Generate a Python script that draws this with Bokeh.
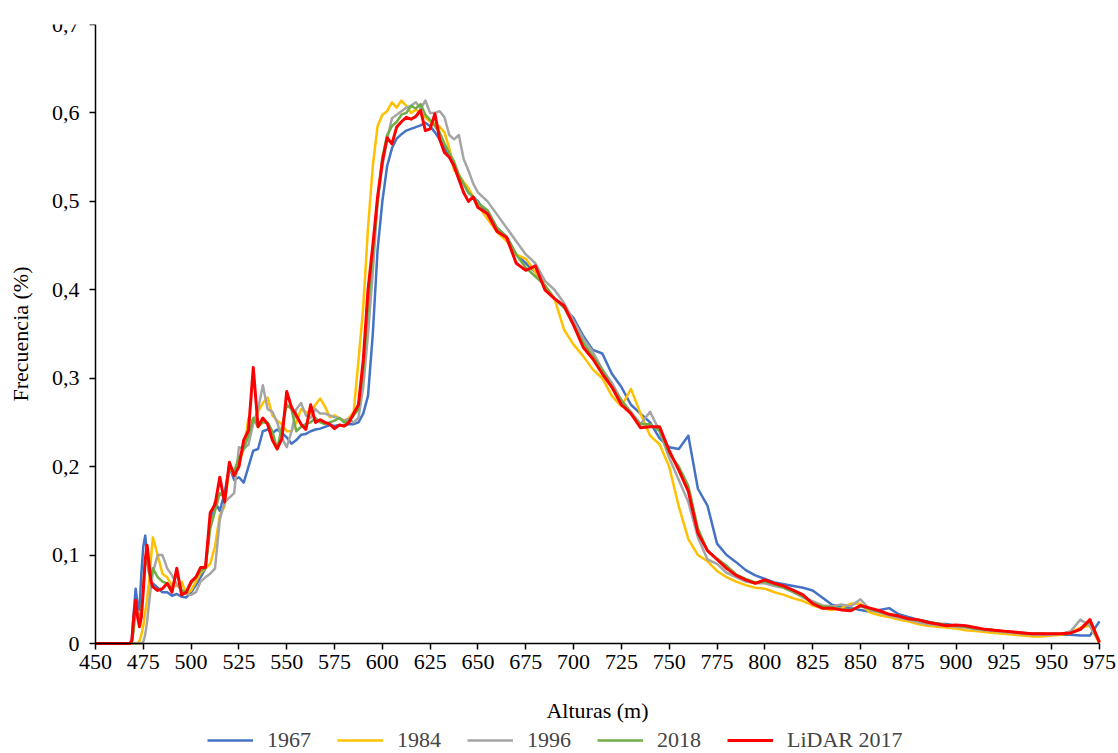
import math
from bokeh.plotting import figure
from bokeh.models import Legend, LegendItem, FixedTicker, CustomJSTickFormatter, Range1d, Label
from bokeh.embed import file_html
from bokeh.resources import INLINE

# ---------------- data ----------------
altura = [450, 460,
          466, 467, 468, 469, 470, 471, 472, 473, 474, 475, 476, 477, 478, 479, 480,
          482.5, 485, 487.5, 490, 492.5, 495, 497.5, 500, 502.5, 505, 507.5, 510,
          512.5, 515, 517.5, 520, 522.5, 525, 527.5, 530, 532.5, 535, 537.5, 540,
          542.5, 545, 547.5, 550, 552.5, 555, 557.5, 560, 562.5, 565, 567.5, 570,
          572.5, 575, 577.5, 580, 582.5, 585, 587.5, 590, 592.5, 595, 597.5, 600,
          602.5, 605, 607.5, 610, 612.5, 615, 617.5, 620, 622.5, 625, 627.5, 630,
          632.5, 635, 637.5, 640, 642.5, 645, 647.5, 650,
          655, 660, 665, 670, 675, 680, 685, 690, 695, 700, 705, 710, 715, 720,
          725, 730, 735, 740, 745, 750, 755, 760, 765, 770, 775, 780, 785, 790,
          795, 800, 805, 810, 815, 820, 825, 830, 835, 840, 845, 850, 855, 860,
          865, 870, 875, 880, 885, 890, 895, 900, 905, 910, 915, 920, 925, 930,
          935, 940, 945, 950, 955, 960, 965, 970, 975]

s1967 = [0, 0,
         0, 0, 0, 0.005, 0.035, 0.062, 0.045, 0.038, 0.08, 0.11, 0.122, 0.1, 0.08, 0.07, 0.068,
         0.063, 0.058, 0.058, 0.054, 0.056, 0.053, 0.052, 0.058, 0.066, 0.075, 0.085, 0.14,
         0.16, 0.15, 0.17, 0.2, 0.185, 0.188, 0.182, 0.2, 0.218, 0.22, 0.24, 0.242,
         0.238, 0.242, 0.238, 0.233, 0.226, 0.23, 0.236, 0.237, 0.24, 0.242, 0.243, 0.245,
         0.247, 0.246, 0.247, 0.246, 0.248, 0.248, 0.25, 0.26, 0.28, 0.35, 0.445, 0.5,
         0.54, 0.56, 0.571, 0.576, 0.58, 0.582, 0.584, 0.586, 0.589, 0.585, 0.578, 0.57,
         0.56, 0.55, 0.54, 0.525, 0.52, 0.51, 0.505, 0.5,
         0.485, 0.47, 0.46, 0.44, 0.43, 0.42, 0.405, 0.39, 0.38, 0.368, 0.348, 0.332, 0.328, 0.305,
         0.29, 0.27, 0.26, 0.25, 0.232, 0.222, 0.22, 0.235, 0.175, 0.156, 0.113, 0.1, 0.092, 0.083,
         0.077, 0.073, 0.069, 0.067, 0.065, 0.063, 0.06, 0.052, 0.044, 0.041, 0.04, 0.038, 0.036, 0.038,
         0.04, 0.033, 0.03, 0.027, 0.025, 0.022, 0.022, 0.02, 0.019, 0.017, 0.016, 0.015, 0.013, 0.012,
         0.012, 0.011, 0.011, 0.01, 0.01, 0.01, 0.009, 0.009, 0.025]

s1984 = [0, 0,
         0, 0, 0, 0, 0, 0, 0, 0.003, 0.01, 0.02, 0.035, 0.05, 0.07, 0.095, 0.12,
         0.1, 0.079, 0.075, 0.065, 0.065, 0.07, 0.056, 0.06, 0.07, 0.08, 0.085, 0.09,
         0.11, 0.145, 0.155, 0.2, 0.19, 0.205, 0.22, 0.255, 0.25, 0.262, 0.272, 0.278,
         0.258, 0.252, 0.248, 0.24, 0.24, 0.25, 0.265, 0.262, 0.26, 0.27, 0.277, 0.268,
         0.256, 0.258, 0.255, 0.252, 0.255, 0.262, 0.32, 0.38, 0.47, 0.54, 0.585, 0.598,
         0.602, 0.612, 0.606, 0.614, 0.608, 0.6, 0.604, 0.6, 0.595, 0.59, 0.588, 0.584,
         0.578, 0.56, 0.535, 0.53, 0.522, 0.515, 0.505, 0.495,
         0.48, 0.465, 0.455, 0.44, 0.435, 0.42, 0.405, 0.39, 0.355, 0.338, 0.325, 0.31, 0.3, 0.28,
         0.268, 0.288, 0.26, 0.235, 0.225, 0.2, 0.155, 0.118, 0.1, 0.093, 0.082, 0.075, 0.07, 0.066,
         0.063, 0.062, 0.058, 0.055, 0.051, 0.048, 0.043, 0.04, 0.038, 0.04, 0.045, 0.045, 0.035, 0.032,
         0.03, 0.027, 0.025, 0.022, 0.02, 0.019, 0.018, 0.017, 0.015, 0.014, 0.013, 0.012, 0.011, 0.01,
         0.009, 0.008, 0.008, 0.009, 0.01, 0.012, 0.018, 0.02, 0.0]

s1996 = [0, 0,
         0, 0, 0, 0, 0, 0, 0, 0, 0, 0.002, 0.01, 0.025, 0.045, 0.065, 0.08,
         0.1, 0.1, 0.085, 0.077, 0.067, 0.06, 0.056, 0.055, 0.058, 0.07, 0.075, 0.079,
         0.085, 0.14, 0.16, 0.165, 0.17, 0.222, 0.22, 0.225, 0.249, 0.265, 0.292, 0.265,
         0.262, 0.25, 0.232, 0.222, 0.24, 0.265, 0.272, 0.258, 0.255, 0.265, 0.26, 0.26,
         0.258, 0.256, 0.255, 0.252, 0.254, 0.25, 0.255, 0.29, 0.35, 0.42, 0.5, 0.54,
         0.57, 0.594, 0.598, 0.602, 0.606, 0.608, 0.612, 0.605, 0.614, 0.6, 0.6, 0.602,
         0.595, 0.575, 0.57, 0.575, 0.548, 0.535, 0.52, 0.51,
         0.5, 0.485, 0.47, 0.455, 0.44, 0.43, 0.41, 0.4, 0.385, 0.365, 0.345, 0.33, 0.31, 0.295,
         0.275, 0.262, 0.248, 0.262, 0.24, 0.21, 0.185, 0.16, 0.12, 0.095, 0.09, 0.08, 0.075, 0.07,
         0.068, 0.068, 0.065, 0.063, 0.058, 0.052, 0.048, 0.043, 0.042, 0.044, 0.042, 0.05, 0.038, 0.035,
         0.032, 0.029, 0.027, 0.024, 0.022, 0.021, 0.02, 0.019, 0.018, 0.016, 0.015, 0.014, 0.013, 0.012,
         0.011, 0.01, 0.01, 0.01, 0.011, 0.014, 0.027, 0.02, 0.002]

s2018 = [0, 0,
         0, 0, 0, 0.002, 0.015, 0.04, 0.035, 0.028, 0.04, 0.065, 0.09, 0.095, 0.08, 0.075, 0.085,
         0.075, 0.07, 0.068, 0.062, 0.08, 0.06, 0.058, 0.068, 0.075, 0.082, 0.085, 0.13,
         0.15, 0.17, 0.165, 0.2, 0.195, 0.21, 0.22, 0.235, 0.255, 0.245, 0.25, 0.25,
         0.24, 0.22, 0.245, 0.27, 0.265, 0.24, 0.245, 0.248, 0.25, 0.255, 0.25, 0.248,
         0.25, 0.252, 0.255, 0.25, 0.252, 0.258, 0.265, 0.31, 0.38, 0.44, 0.5, 0.55,
         0.575, 0.585, 0.59, 0.598, 0.6, 0.608, 0.605, 0.61, 0.598, 0.592, 0.585, 0.578,
         0.565, 0.555, 0.545, 0.53, 0.52, 0.51, 0.505, 0.498,
         0.49, 0.47, 0.46, 0.44, 0.425, 0.415, 0.405, 0.39, 0.38, 0.36, 0.34, 0.325, 0.31, 0.29,
         0.275, 0.26, 0.248, 0.248, 0.24, 0.215, 0.2, 0.178, 0.13, 0.105, 0.096, 0.088, 0.078, 0.073,
         0.069, 0.07, 0.067, 0.063, 0.058, 0.053, 0.046, 0.042, 0.041, 0.039, 0.038, 0.042, 0.039, 0.036,
         0.033, 0.031, 0.028, 0.026, 0.024, 0.023, 0.021, 0.02, 0.019, 0.017, 0.016, 0.015, 0.014, 0.013,
         0.012, 0.011, 0.011, 0.011, 0.011, 0.012, 0.016, 0.025, 0.002]

lidar2017 = [0, 0,
             0, 0, 0, 0.003, 0.03, 0.049, 0.03, 0.019, 0.03, 0.06, 0.095, 0.111, 0.09, 0.07, 0.064,
             0.06, 0.062, 0.068, 0.058, 0.085, 0.055, 0.058, 0.07, 0.075, 0.086, 0.086, 0.148,
             0.157, 0.188, 0.16, 0.205, 0.19, 0.2, 0.23, 0.241, 0.312, 0.245, 0.255, 0.248,
             0.23, 0.22, 0.232, 0.285, 0.267, 0.258, 0.248, 0.242, 0.27, 0.25, 0.253, 0.25,
             0.248, 0.243, 0.247, 0.246, 0.25, 0.26, 0.27, 0.32, 0.4, 0.45, 0.505, 0.545,
             0.572, 0.565, 0.584, 0.59, 0.595, 0.593, 0.596, 0.603, 0.58, 0.582, 0.599, 0.57,
             0.555, 0.55, 0.54, 0.525, 0.51, 0.5, 0.505, 0.493,
             0.486, 0.466, 0.459, 0.43, 0.422, 0.427, 0.4, 0.39, 0.382, 0.36, 0.335, 0.322, 0.305, 0.29,
             0.27, 0.26, 0.244, 0.245, 0.245, 0.218, 0.196, 0.172, 0.125, 0.105, 0.095, 0.085, 0.077, 0.072,
             0.068, 0.072, 0.068, 0.065, 0.06, 0.055, 0.045, 0.04, 0.04, 0.038, 0.037, 0.043, 0.04, 0.037,
             0.033, 0.031, 0.028, 0.027, 0.024, 0.022, 0.02, 0.021, 0.02, 0.018, 0.016, 0.015, 0.014, 0.013,
             0.012, 0.011, 0.011, 0.011, 0.011, 0.012, 0.016, 0.027, 0.001]

series_names = ["1967", "1984", "1996", "2018", "LiDAR 2017"]
x_ticks = [450, 475, 500, 525, 550, 575, 600, 625, 650, 675, 700, 725, 750, 775,
           800, 825, 850, 875, 900, 925, 950, 975]
y_ticks = [0, 0.1, 0.2, 0.3, 0.4, 0.5, 0.6, 0.7]
x_label = "Alturas (m)"
y_label = "Frecuencia (%)"

# ---------------- layout ----------------
# The frame covers the whole page so that axes, labels and legend (all drawn
# inside it) are never clipped; axes are pinned at x = 450 and y = 0.
FONT = "Liberation Serif"
X0, X1, Y0, Y1 = 450, 975, 0, 0.7
KX = 1004 / (X1 - X0)          # px per metre
KY = 619 / (Y1 - Y0)           # px per unit of frequency
x_start = X0 - 95 / KX
x_end = X0 + (1118 - 95) / KX
y_start = Y0 - 110 / KY

p = figure(frame_width=1118, frame_height=729, output_backend="svg", toolbar_location=None,
           x_range=Range1d(x_start, x_end), y_range=Range1d(y_start, Y1),
           min_border_left=0, min_border_right=0, min_border_top=24,
           min_border_bottom=0)
p.outline_line_color = None
p.xgrid.visible = False
p.ygrid.visible = False

colors = ["#4472C4", "#FFC000", "#A5A5A5", "#70AD47", "#FF0000"]
widths = [2.5, 2.5, 2.5, 2.5, 3.0]
data = [s1967, s1984, s1996, s2018, lidar2017]
renderers = []
for ys, c, w in zip(data, colors, widths):
    r = p.line(altura, ys, line_color=c, line_width=w, line_join="round")
    renderers.append(r)

for ax in (p.xaxis[0], p.yaxis[0]):
    ax.axis_line_color = "black"
    ax.axis_line_width = 1.5
    ax.major_tick_line_color = "black"
    ax.major_tick_line_width = 1.5
    ax.major_tick_in = 0
    ax.major_tick_out = 6
    ax.minor_tick_line_color = None
    ax.major_label_text_font = FONT
    ax.major_label_text_font_size = "22px"
    ax.major_label_text_color = "black"

p.xaxis[0].fixed_location = Y0
p.yaxis[0].fixed_location = X0
p.xaxis[0].bounds = (X0, X1)
p.yaxis[0].bounds = (Y0, Y1)
p.xaxis[0].ticker = FixedTicker(ticks=x_ticks)
p.yaxis[0].ticker = FixedTicker(ticks=y_ticks)
p.yaxis[0].formatter = CustomJSTickFormatter(
    code="return tick === 0 ? '0' : tick.toFixed(1).replace('.', ',');")
p.xaxis[0].major_label_standoff = 5
p.yaxis[0].major_label_standoff = 10

# axis titles (real text), centred on the plotting area
p.add_layout(Label(x=(X0 + X1) / 2, y=Y0 - 67 / KY, text=x_label,
                   text_font=FONT, text_font_size="22px", text_color="black",
                   text_align="center", text_baseline="middle"))
p.add_layout(Label(x=X0 - 75 / KX, y=(Y0 + Y1) / 2, text=y_label, angle=math.pi / 2,
                   text_font=FONT, text_font_size="22px", text_color="black",
                   text_align="center", text_baseline="middle"))

legend = Legend(items=[LegendItem(label=n, renderers=[r]) for n, r in zip(series_names, renderers)],
                orientation="horizontal", location=(207, 0),
                label_text_font=FONT, label_text_font_size="22px",
                glyph_width=46, glyph_height=18, label_standoff=14, spacing=26,
                padding=0, margin=0, border_line_color=None, background_fill_alpha=0)
p.add_layout(legend, "center")

open("out.html", "w").write(file_html(p, INLINE))
